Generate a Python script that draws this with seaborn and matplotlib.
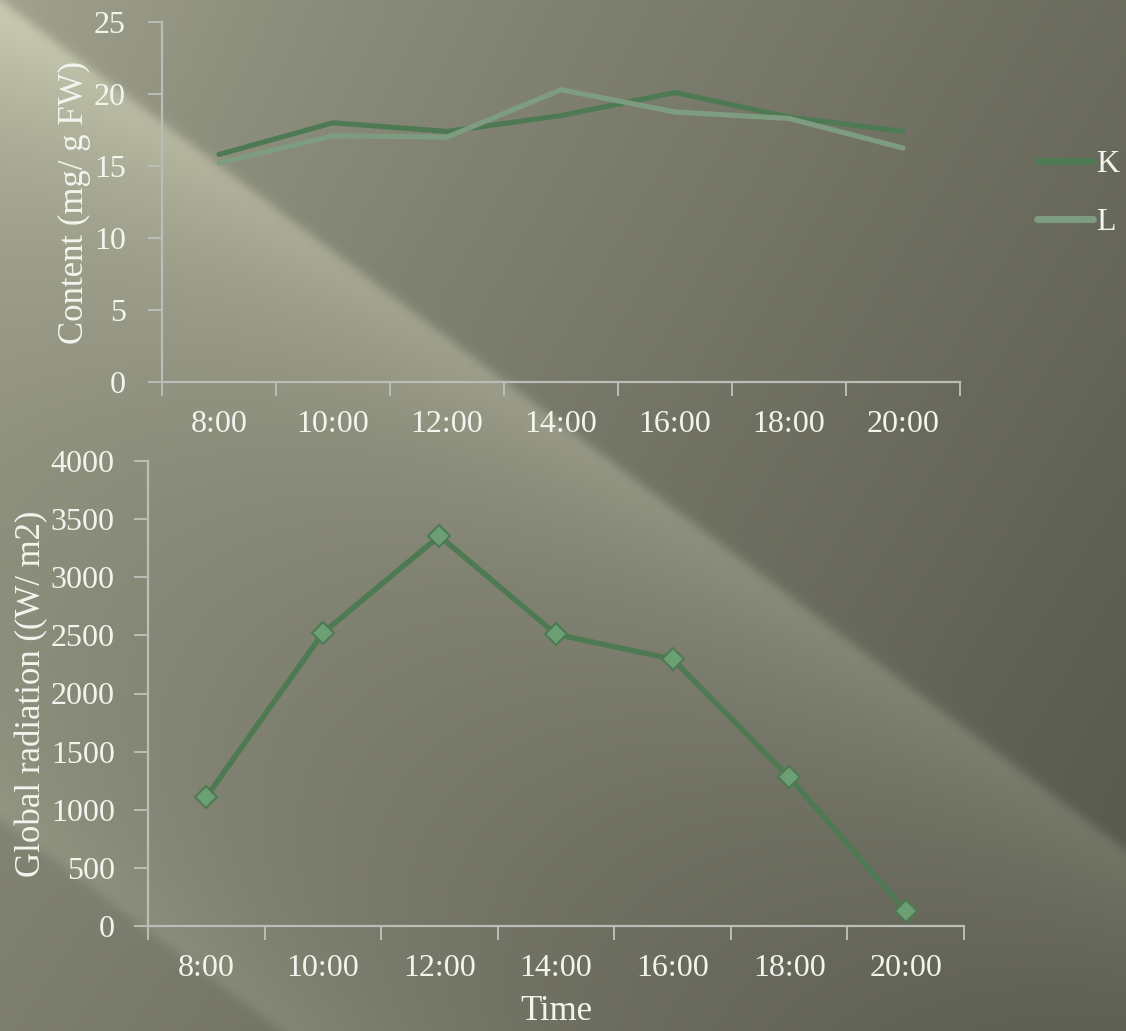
import numpy as np
import pandas as pd
import matplotlib
matplotlib.use("Agg")
import matplotlib.pyplot as plt
from matplotlib.lines import Line2D
import seaborn as sns

# ---- data ----
times = ["8:00", "10:00", "12:00", "14:00", "16:00", "18:00", "20:00"]
content_k = [15.8, 18.0, 17.4, 18.5, 20.1, 18.4, 17.4]
content_l = [15.2, 17.1, 17.0, 20.3, 18.75, 18.3, 16.25]
radiation = [1110, 2520, 3355, 2510, 2295, 1280, 130]
series_names = ["K", "L"]
content_ticks = [0, 5, 10, 15, 20, 25]
radiation_ticks = [0, 500, 1000, 1500, 2000, 2500, 3000, 3500, 4000]

# ---- style ----
sns.set_theme(style="white")
plt.rcParams["font.family"] = ["Liberation Serif", "DejaVu Serif"]
TEXT = "#f4f4ee"
AXIS = "#bdbdb8"
K_COLOR = "#4e7a53"
L_COLOR = "#7e9c80"
MARKER_FILL = "#6c9f73"
FS = 23
FS_LABEL = 25

W, H = 1126, 1031
fig = plt.figure(figsize=(W / 100, H / 100), dpi=100)

# ---- textured olive backdrop with diagonal light streaks ----
yy, xx = np.mgrid[0:H, 0:W].astype(float)
lum = 148 - 40 * xx / W - 22 * yy / H
lum += 15 * np.exp(-np.hypot(xx, yy) / 250)

SLOPE = 0.755
NORM = np.sqrt(1 + SLOPE ** 2)


def streak_below(offset, amp, decay):
    # light band with a crisp upper edge fading downwards
    d = (yy - SLOPE * xx - offset) / NORM
    edge = 1 / (1 + np.exp(-d / 3))
    return amp * edge * np.exp(-np.clip(d, 0, None) / decay)


def streak_above(offset, amp, decay):
    # light band with a crisp lower edge fading upwards
    d = (yy - SLOPE * xx - offset) / NORM
    edge = 1 - 1 / (1 + np.exp(-d / 3))
    return amp * edge * np.exp(-np.clip(-d, 0, None) / decay)


lum += streak_below(0, 42 * (1 - 0.35 * xx / W), 145)
lum += streak_above(818, 18, 120)
rgb = np.stack([lum * 0.99, lum * 1.0, lum * 0.875], axis=-1)
rgb = np.clip(rgb / 255.0, 0, 1)

bg = fig.add_axes([0, 0, 1, 1], zorder=-10)
bg.imshow(rgb, aspect="auto", extent=[0, 1, 0, 1], interpolation="bilinear")
bg.set_axis_off()


def style_axes(ax, yticks, pad_y):
    ax.set_facecolor("none")
    for s in ("top", "right"):
        ax.spines[s].set_visible(False)
    for s in ("left", "bottom"):
        ax.spines[s].set_color(AXIS)
        ax.spines[s].set_linewidth(1.6)
    ax.set_xlim(-0.5, len(times) - 0.5)
    ax.set_xticks(np.arange(-0.5, len(times), 1.0))
    ax.set_xticklabels([])
    ax.set_xticks(np.arange(len(times)), minor=True)
    ax.set_xticklabels(times, minor=True)
    ax.tick_params(axis="x", which="major", direction="out", length=10,
                   width=1.4, color=AXIS, bottom=True)
    ax.tick_params(axis="x", which="minor", length=0, pad=20,
                   labelsize=FS, labelcolor=TEXT)
    ax.set_yticks(yticks)
    ax.set_yticklabels([str(v) for v in yticks])
    ax.tick_params(axis="y", direction="out", length=10, width=1.4,
                   color=AXIS, left=True, pad=pad_y, labelsize=FS,
                   labelcolor=TEXT)
    ax.grid(False)


# ---- top: content of K and L ----
ax1 = fig.add_axes([162 / W, 1 - 382 / H, (960 - 162) / W, (382 - 22) / H])
df_top = pd.DataFrame({
    "time": times * 2,
    "pos": list(range(len(times))) * 2,
    "value": content_k + content_l,
    "series": [series_names[0]] * len(times) + [series_names[1]] * len(times),
})
sns.lineplot(data=df_top, x="pos", y="value", hue="series",
             palette={"K": K_COLOR, "L": L_COLOR}, linewidth=3.7,
             ax=ax1, legend=False, sort=False)
for ln in ax1.get_lines():
    ln.set_solid_capstyle("round")
ax1.set_ylim(0, 25)
style_axes(ax1, content_ticks, 16)
ax1.set_xlabel("")
ax1.set_ylabel("Content (mg/ g FW)", fontsize=FS_LABEL, color=TEXT,
               labelpad=2)

handles = [Line2D([], [], color=K_COLOR, lw=5, solid_capstyle="round"),
           Line2D([], [], color=L_COLOR, lw=5, solid_capstyle="round")]
fig.legend(handles, series_names, loc="center left",
           bbox_to_anchor=(1037 / W, 1 - 193.5 / H), frameon=False,
           fontsize=FS, labelcolor=TEXT, handlelength=1.75,
           handletextpad=0.1, labelspacing=0.9, borderpad=0,
           borderaxespad=0)

# ---- bottom: global radiation ----
ax2 = fig.add_axes([148 / W, 1 - 926 / H, (964 - 148) / W, (926 - 461) / H])
df_bot = pd.DataFrame({"pos": range(len(times)), "value": radiation})
sns.lineplot(data=df_bot, x="pos", y="value", color=K_COLOR, linewidth=3.9,
             marker="D", markersize=11, markerfacecolor=MARKER_FILL,
             markeredgecolor=K_COLOR, markeredgewidth=1.5, ax=ax2, sort=False)
ax2.set_ylim(0, 4000)
style_axes(ax2, radiation_ticks, 14)
ax2.set_xlabel("Time", fontsize=FS_LABEL, color=TEXT, labelpad=9)
ax2.set_ylabel("Global radiation ((W/ m2)", fontsize=FS_LABEL, color=TEXT,
               labelpad=2)

fig.savefig("out.png", dpi=100)
